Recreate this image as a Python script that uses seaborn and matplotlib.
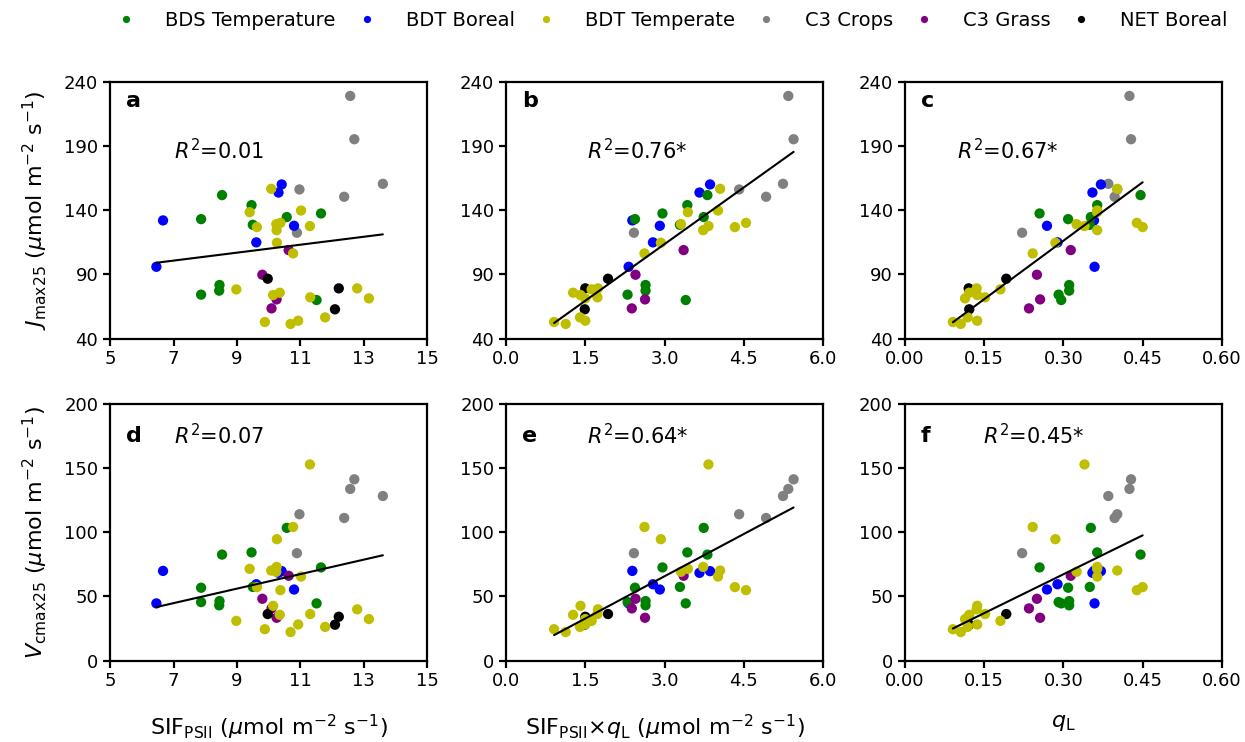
import numpy as np
import pandas as pd
import matplotlib
matplotlib.use("Agg")
import matplotlib.pyplot as plt
import seaborn as sns

# ---------------- data (one entry per sample) ----------------
group = (["C3 Crops"] * 6 + ["BDT Boreal"] * 6 + ["BDS Temperature"] * 10 +
         ["C3 Grass"] * 4 + ["NET Boreal"] * 3 + ["BDT Temperate"] * 20)

sif_psii = [12.57, 12.70, 13.60, 12.38, 10.97, 10.89,
            6.67, 6.46, 10.41, 10.31, 10.80, 9.61,
            8.53, 9.46, 7.87, 9.50, 10.57, 11.65, 7.87, 8.45, 8.44, 11.51,
            10.63, 9.80, 10.25, 10.09,
            9.97, 12.21, 12.09,
            10.08, 9.40, 11.02, 9.63, 10.24, 10.37, 10.25, 11.30, 10.26, 10.77,
            8.98, 10.14, 10.35, 11.31, 12.79, 13.16, 9.88, 10.69, 10.93, 11.78]

sif_x_ql = [5.34, 5.44, 5.24, 4.92, 4.41, 2.42,
            2.39, 2.32, 3.86, 3.66, 2.91, 2.78,
            3.81, 3.43, 2.44, 3.29, 3.74, 2.96, 2.30, 2.64, 2.64, 3.40,
            3.36, 2.45, 2.63, 2.38,
            1.93, 1.50, 1.49,
            4.05, 3.44, 4.01, 4.33, 3.31, 4.54, 3.73, 3.83, 2.93, 2.62,
            1.62, 1.41, 1.27, 1.73, 1.74, 1.50, 0.91, 1.13, 1.50, 1.40]

q_l = [0.425, 0.428, 0.385, 0.397, 0.402, 0.222,
       0.358, 0.359, 0.371, 0.355, 0.269, 0.289,
       0.446, 0.364, 0.309, 0.350, 0.352, 0.255, 0.291, 0.311, 0.311, 0.296,
       0.314, 0.250, 0.256, 0.235,
       0.192, 0.121, 0.122,
       0.402, 0.364, 0.364, 0.450, 0.325, 0.439, 0.364, 0.340, 0.285, 0.242,
       0.181, 0.137, 0.122, 0.152, 0.136, 0.114, 0.091, 0.106, 0.137, 0.119]

jmax25 = [228.9, 195.2, 160.5, 150.4, 156.1, 122.4,
          132.0, 95.9, 160.0, 153.7, 127.8, 114.9,
          151.7, 143.9, 133.0, 128.6, 134.6, 137.4, 74.2, 81.7, 77.3, 70.0,
          108.9, 89.7, 70.5, 63.5,
          86.6, 79.1, 62.8,
          156.6, 138.4, 139.7, 126.8, 129.1, 130.1, 124.4, 127.6, 114.6, 106.3,
          78.3, 73.9, 75.7, 72.1, 79.1, 71.3, 52.9, 51.4, 53.9, 56.5]

vcmax25 = [133.7, 141.2, 128.2, 111.1, 114.0, 83.7,
           69.9, 44.6, 69.7, 68.4, 55.4, 59.5,
           82.6, 84.3, 56.8, 57.4, 103.4, 72.6, 45.6, 46.4, 43.1, 44.6,
           66.1, 48.2, 33.4, 40.7,
           36.3, 34.2, 28.0,
           70.2, 71.5, 65.5, 57.3, 69.2, 54.9, 73.0, 152.8, 94.6, 104.1,
           31.0, 42.7, 35.7, 36.3, 40.0, 32.4, 24.5, 22.3, 28.2, 26.3]

categories = ["BDS Temperature", "BDT Boreal", "BDT Temperate",
              "C3 Crops", "C3 Grass", "NET Boreal"]
colors = ["#008000", "#0000ff", "#bfbf00", "#808080", "#800080", "#000000"]

panel_letters = ["a", "b", "c", "d", "e", "f"]
r2_labels = ["$R^2$=0.01", "$R^2$=0.76*", "$R^2$=0.67*",
             "$R^2$=0.07", "$R^2$=0.64*", "$R^2$=0.45*"]

x_ticks = [[5, 7, 9, 11, 13, 15],
           [0.0, 1.5, 3.0, 4.5, 6.0],
           [0.00, 0.15, 0.30, 0.45, 0.60]]
x_ticklabels = [["5", "7", "9", "11", "13", "15"],
                ["0.0", "1.5", "3.0", "4.5", "6.0"],
                ["0.00", "0.15", "0.30", "0.45", "0.60"]]
y_ticks_j = [40, 90, 140, 190, 240]
y_ticks_v = [0, 50, 100, 150, 200]

df = pd.DataFrame({"group": group, "sif": sif_psii, "sifql": sif_x_ql,
                   "ql": q_l, "jmax": jmax25, "vcmax": vcmax25})

# ---------------- style ----------------
sns.set_theme(style="ticks")
plt.rcParams["font.family"] = ["DejaVu Sans"]
plt.rcParams["mathtext.fontset"] = "dejavusans"
plt.rcParams["axes.linewidth"] = 1.6
plt.rcParams["text.color"] = "black"
plt.rcParams["axes.labelcolor"] = "black"
plt.rcParams["xtick.color"] = "black"
plt.rcParams["ytick.color"] = "black"

palette = dict(zip(categories, colors))

fig = plt.figure(figsize=(12.45, 7.42), dpi=100)
lefts = [0.0884, 0.4064, 0.7267]
width = 0.2548
bottoms = [0.5437, 0.1096]
height = 0.3462

xcols = ["sif", "sifql", "ql"]
ycols = ["jmax", "vcmax"]
xlabels = ["SIF$_{\\mathrm{PSII}}$ ($\\mu$mol m$^{-2}$ s$^{-1}$)",
           "SIF$_{\\mathrm{PSII}}$×$q_{\\mathrm{L}}$ ($\\mu$mol m$^{-2}$ s$^{-1}$)",
           "$q_{\\mathrm{L}}$"]
ylabels = ["$J_{\\mathrm{max25}}$ ($\\mu$mol m$^{-2}$ s$^{-1}$)",
           "$V_{\\mathrm{cmax25}}$ ($\\mu$mol m$^{-2}$ s$^{-1}$)"]
r2_pos = [(0.20, 0.73), (0.254, 0.73), (0.166, 0.73),
          (0.20, 0.876), (0.254, 0.876), (0.248, 0.876)]
letter_y = [0.926, 0.926, 0.926, 0.876, 0.876, 0.876]

handles, labels = None, None
k = 0
for r in range(2):
    for c in range(3):
        ax = fig.add_axes([lefts[c], bottoms[r], width, height])
        sns.scatterplot(data=df, x=xcols[c], y=ycols[r], hue="group",
                        hue_order=categories, palette=palette, s=55,
                        linewidth=0, ax=ax, legend=(k == 0), zorder=2)
        sns.regplot(data=df, x=xcols[c], y=ycols[r], scatter=False, ci=None,
                    color="black", line_kws={"lw": 1.5, "zorder": 3}, ax=ax)
        if k == 0:
            handles, labels = ax.get_legend_handles_labels()
            ax.get_legend().remove()
        ax.set_xlim(x_ticks[c][0], x_ticks[c][-1])
        ax.set_xticks(x_ticks[c])
        ax.set_xticklabels(x_ticklabels[c])
        if r == 0:
            ax.set_ylim(40, 240)
            ax.set_yticks(y_ticks_j)
        else:
            ax.set_ylim(0, 200)
            ax.set_yticks(y_ticks_v)
        ax.tick_params(axis="both", labelsize=13, direction="out",
                       length=5, width=1.6, colors="black")
        for sp in ax.spines.values():
            sp.set_visible(True)
            sp.set_linewidth(1.6)
            sp.set_color("black")
        if r == 1:
            ax.set_xlabel(xlabels[c], fontsize=16, labelpad=16)
        else:
            ax.set_xlabel("")
        if c == 0:
            ax.set_ylabel(ylabels[r], fontsize=16, labelpad=10)
        else:
            ax.set_ylabel("")
        ax.text(0.05, letter_y[k], panel_letters[k], transform=ax.transAxes,
                fontsize=16, fontweight="bold", va="center", ha="left")
        ax.text(r2_pos[k][0], r2_pos[k][1], r2_labels[k], transform=ax.transAxes,
                fontsize=15, va="center", ha="left")
        k += 1

fig.legend(handles, labels, loc="center", bbox_to_anchor=(0.536, 0.972),
           ncol=6, frameon=False, fontsize=14, markerscale=0.7,
           handlelength=2.0, handletextpad=1.0, columnspacing=0.6)

fig.savefig("out.png", dpi=100)
